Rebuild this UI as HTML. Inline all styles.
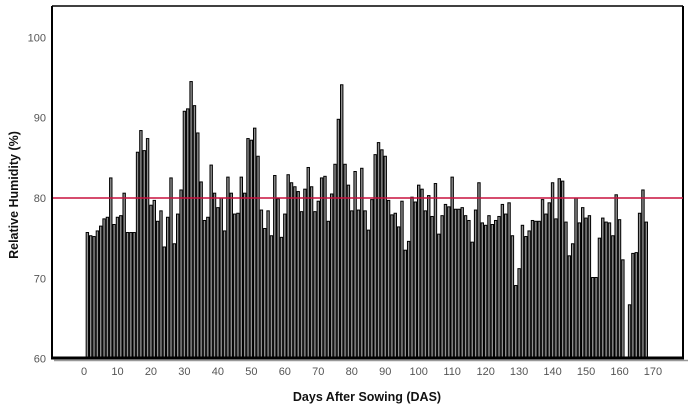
<!DOCTYPE html>
<html><head><meta charset="utf-8"><style>
body{margin:0;background:#fff;}
svg{display:block;font-family:"Liberation Sans",Arial,sans-serif;}
</style></head><body>
<svg id="chart" width="694" height="407" viewBox="0 0 694 407">
<g id="bars"></g>
<g id="axes"></g>
</svg>
<script>
const days = [];
for (let d = 1; d <= 168; d++) days.push(d);
const humidity = [
75.7,75.3,75.2,75.9,76.5,77.4,77.6,82.5,76.7,77.6,77.8,80.6,75.7,75.7,75.7,85.7,88.4,85.9,87.4,79.1,
79.7,77.1,78.4,73.9,77.6,82.5,74.3,78.0,81.0,90.8,91.1,94.5,91.5,88.1,82.0,77.2,77.6,84.1,80.6,78.8,
80.0,75.9,82.6,80.6,78.0,78.1,82.6,80.6,87.4,87.2,88.7,85.2,78.5,76.2,78.4,75.3,82.8,79.9,75.1,78.0,
82.9,81.9,81.4,80.8,78.3,81.1,83.8,81.4,78.3,79.6,82.5,82.7,77.1,80.5,84.2,89.8,94.1,84.2,81.6,78.4,
83.3,78.5,83.7,78.4,76.0,79.8,85.4,86.9,86.0,85.2,79.7,77.9,78.1,76.4,79.6,73.5,74.6,80.1,79.5,81.6,
81.1,78.4,80.3,77.7,81.8,75.5,77.8,79.2,78.9,82.6,78.6,78.6,78.8,77.8,77.2,74.5,78.5,81.9,76.9,76.6,
77.8,76.7,77.2,77.7,79.2,78.0,79.4,75.3,69.1,71.2,76.6,75.2,75.9,77.2,77.1,77.1,79.8,78.0,79.4,81.9,
77.4,82.4,82.1,77.0,72.8,74.3,80.0,76.9,78.8,77.5,77.8,70.1,70.1,75.0,77.5,77.0,76.9,75.3,80.4,77.3,
72.3,null,66.7,73.1,73.2,78.1,81.0,77.0];
const yTicks = [60,70,80,90,100];
const xTicks = [0,10,20,30,40,50,60,70,80,90,100,110,120,130,140,150,160,170];
const refValue = 80;

const NS = "http://www.w3.org/2000/svg";
const xS = d => 84 + 3.347 * d;
const yS = v => 358.6 - (v - 60) * 8.03;
function mk(tag, attrs, parent){const e=document.createElementNS(NS,tag);for(const k in attrs)e.setAttribute(k,attrs[k]);parent.appendChild(e);return e;}
const bars = document.getElementById('bars');
const axes = document.getElementById('axes');
const bw = 2.4;
humidity.forEach((v,i)=>{
  if(v===null) return;
  const r = mk('rect',{x:xS(days[i])-bw/2,y:yS(v),width:bw,height:yS(60)-yS(v),fill:'#909090',stroke:'#000','stroke-width':1},bars);
  
  
});
const fl = mk('line',{x1:52,y1:6,x2:52,y2:358,stroke:'#000','stroke-width':2},axes);


const ft = mk('line',{x1:52,y1:6,x2:683,y2:6,stroke:'#000','stroke-width':1.5},axes);


const fr = mk('line',{x1:683,y1:6,x2:683,y2:358,stroke:'#000','stroke-width':2},axes);


const sh = mk('line',{x1:54,y1:360.5,x2:688,y2:360.5,stroke:'#999','stroke-width':1.5},axes);


const xa = mk('line',{x1:51,y1:358,x2:684,y2:358,stroke:'#000','stroke-width':3},axes);


const rl = mk('line',{x1:53,y1:yS(refValue),x2:683,y2:yS(refValue),stroke:'#c8103e','stroke-width':1.6},axes);


yTicks.forEach(t=>{
  const e = mk('text',{x:46,y:yS(t)+4,'text-anchor':'end','font-size':11,fill:'#555'},axes);
  e.textContent=t;
  
  
});
xTicks.forEach(t=>{
  const e = mk('text',{x:xS(t),y:375,'text-anchor':'middle','font-size':11,fill:'#555'},axes);
  e.textContent=t;
  
  
});
const xt = mk('text',{x:367,y:401,'text-anchor':'middle','font-size':12.5,'font-weight':'bold',fill:'#111'},axes);
xt.textContent='Days After Sowing (DAS)';


const yt = mk('text',{x:0,y:0,'text-anchor':'middle','font-size':12.5,'font-weight':'bold',fill:'#111',transform:'translate(18,195) rotate(-90)'},axes);
yt.textContent='Relative Humidity (%)';


</script>
</body></html>
